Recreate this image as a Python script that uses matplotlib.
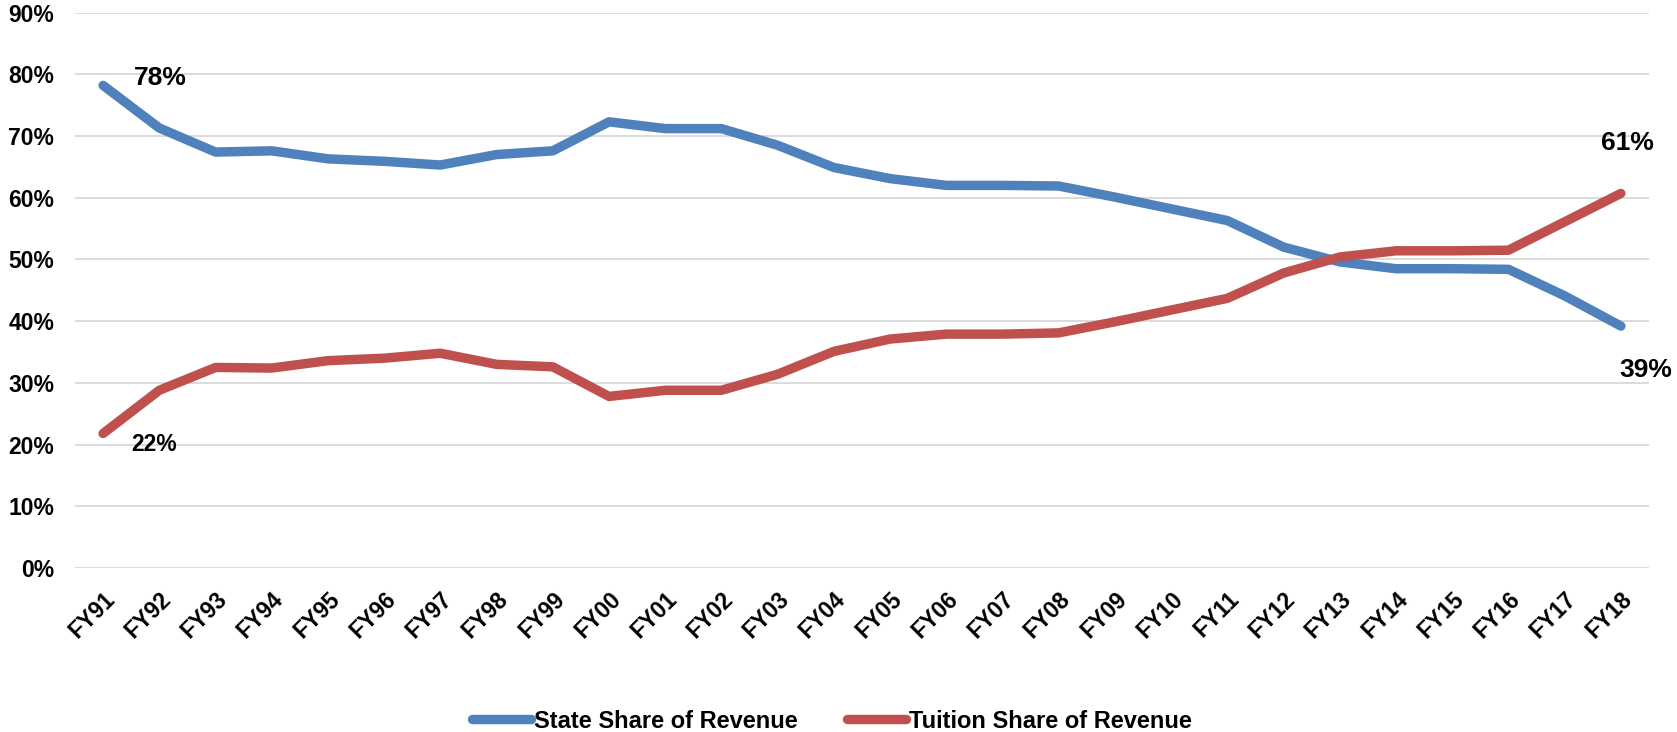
import matplotlib.pyplot as plt
from matplotlib.ticker import FuncFormatter

# fiscal years and revenue shares (percent)
years = ['FY91', 'FY92', 'FY93', 'FY94', 'FY95', 'FY96', 'FY97', 'FY98', 'FY99',
         'FY00', 'FY01', 'FY02', 'FY03', 'FY04', 'FY05', 'FY06', 'FY07', 'FY08',
         'FY09', 'FY10', 'FY11', 'FY12', 'FY13', 'FY14', 'FY15', 'FY16', 'FY17', 'FY18']
state = [78.2, 71.3, 67.4, 67.6, 66.3, 65.9, 65.3, 67.0, 67.6, 72.3, 71.2, 71.2,
         68.5, 64.9, 63.1, 62.0, 62.0, 61.9, 60.1, 58.2, 56.3, 52.0, 49.6, 48.5,
         48.5, 48.4, 44.1, 39.2]
tuition = [21.8, 28.8, 32.5, 32.4, 33.6, 34.0, 34.8, 33.0, 32.6, 27.8, 28.8, 28.8,
           31.4, 35.1, 37.1, 37.9, 37.9, 38.1, 39.9, 41.8, 43.7, 47.8, 50.4, 51.4,
           51.4, 51.5, 56.1, 60.7]

plt.rcParams['font.family'] = ['Liberation Sans', 'DejaVu Sans']
plt.rcParams['font.weight'] = 'bold'

W, H = 1677, 732
fig = plt.figure(figsize=(W / 100, H / 100), dpi=100)
ax = fig.add_axes([75 / W, 1 - 568 / H, (1649 - 75) / W, (568 - 12.6) / H])

x = list(range(len(years)))
ax.plot(x, state, color='#4F81BD', lw=6.8, solid_capstyle='round',
        solid_joinstyle='round', label='State Share of Revenue', zorder=3)
ax.plot(x, tuition, color='#C0504D', lw=6.8, solid_capstyle='round',
        solid_joinstyle='round', label='Tuition Share of Revenue', zorder=3)

ax.set_xlim(-0.5, len(years) - 0.5)
ax.set_ylim(0, 90)
ax.set_yticks(range(0, 91, 10))
ax.yaxis.set_major_formatter(FuncFormatter(lambda v, p: f'{int(v)}%'))
ax.set_xticks(x)
ax.set_xticklabels(years)
ax.grid(axis='y', color='#D9D9D9', lw=1.3, zorder=0)
ax.set_axisbelow(True)
for s in ax.spines.values():
    s.set_visible(False)
ax.tick_params(axis='both', length=0)
ax.tick_params(axis='y', pad=15, labelsize=16.5)
ax.tick_params(axis='x', pad=14, labelsize=16.5)
plt.setp(ax.get_xticklabels(), rotation=45, ha='right', va='top',
         rotation_mode='anchor', fontweight='bold')
plt.setp(ax.get_yticklabels(), fontweight='bold')

# end-point data labels
ax.annotate(f'{round(state[0])}%', (0, state[0]), xytext=(41, 5),
            textcoords='offset points', ha='center', va='center',
            fontsize=19, fontweight='bold')
ax.annotate(f'{round(tuition[0])}%', (0, tuition[0]), xytext=(37, -8),
            textcoords='offset points', ha='center', va='center',
            fontsize=16.5, fontweight='bold')
ax.annotate(f'{round(tuition[-1])}%', (x[-1], tuition[-1]), xytext=(5, 36),
            textcoords='offset points', ha='center', va='center',
            fontsize=19, fontweight='bold')
ax.annotate(f'{round(state[-1])}%', (x[-1], state[-1]), xytext=(18, -31.5),
            textcoords='offset points', ha='center', va='center',
            fontsize=19, fontweight='bold', annotation_clip=False)

fig.legend(loc='center', bbox_to_anchor=(832 / W, 1 - 721 / H), ncol=2,
           frameon=False, fontsize=17, handlelength=2.5, handletextpad=0.13,
           columnspacing=2.1, borderaxespad=0, borderpad=0)

fig.savefig('out.png', dpi=100)
